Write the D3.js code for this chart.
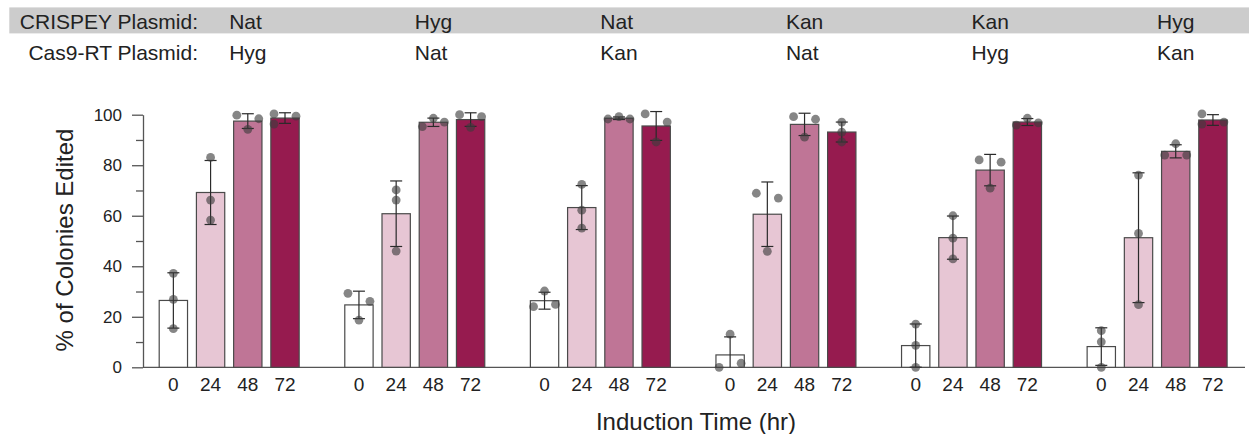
<!DOCTYPE html>
<html>
<head>
<meta charset="utf-8">
<script src="https://cdn.jsdelivr.net/npm/d3@7"></script>
<style>
  html, body { margin: 0; padding: 0; background: #fff; }
  svg { display: block; font-family: "Liberation Sans", Arial, sans-serif; }
</style>
</head>
<body>
<svg id="chart" width="1249" height="434"></svg>
<script>
// ---------------- data ----------------
const crispeyPlasmid = ["Nat", "Hyg", "Nat", "Kan", "Kan", "Hyg"];
const cas9Plasmid    = ["Hyg", "Nat", "Kan", "Nat", "Hyg", "Kan"];
const timeLabels     = ["0", "24", "48", "72"];
const yTickValues    = [0, 20, 40, 60, 80, 100];
const yMinorTicks    = [10, 30, 50, 70, 90];
const barColors      = ["#ffffff", "#e7c6d4", "#bf7596", "#961b4f"];

// replicate values (% colonies edited) per induction time, one array per plasmid pair
const natHyg = [[37.2, 26.9, 15.3], [83.1, 66.2, 58.3], [99.8, 98.4, 94.2], [100.3, 99.4, 96.3]];
const hygNat = [[29.3, 26.1, 18.7], [70.2, 66.2, 46.0], [98.6, 97.1, 95.3], [100.0, 99.2, 95.0]];
const natKan = [[24.0, 30.2, 24.9], [72.4, 62.2, 55.1], [99.2, 98.3, 98.3], [100.3, 97.1, 89.2]];
const kanNat = [[0.0, 1.6, 13.1],   [68.9, 67.0, 45.9], [99.2, 98.2, 91.1], [97.1, 93.1, 89.2]];
const kanHyg = [[17.1, 8.7, 0.0],   [60.0, 51.1, 42.9], [82.1, 81.2, 70.9], [98.6, 96.8, 95.9]];
const hygKan = [[14.5, 10.1, 0.0],  [76.1, 53.0, 24.8], [84.0, 84.0, 88.5], [100.3, 97.1, 96.3]];
const replicateGroups = [natHyg, hygNat, natKan, kanNat, kanHyg, hygKan];

// ---------------- layout ----------------
const W = 1249, H = 434;
const svg = d3.select("#chart");
const textColor = "#222";
const axisColor = "#555";

const y = d3.scaleLinear().domain([0, 100]).range([367.3, 114.7]);

const groupIdx = d3.range(crispeyPlasmid.length);
const x0 = d3.scaleBand().domain(groupIdx).range([158.7, 1227.6]).paddingInner(0.2404).paddingOuter(0);
const x1 = d3.scaleBand().domain(timeLabels).range([0, x0.bandwidth()]).paddingInner(0.212).paddingOuter(0);

const mean = a => d3.mean(a);
const sd = a => d3.deviation(a);

// ---------------- header ----------------
svg.append("rect").attr("x", 9.3).attr("y", 7.4).attr("width", W - 9.3).attr("height", 26)
  .attr("fill", "#cccccc");

const hdr = svg.append("g").attr("font-size", 21).attr("fill", textColor);
hdr.append("text").attr("x", 198).attr("y", 29.3).attr("text-anchor", "end").text("CRISPEY Plasmid:");
hdr.append("text").attr("x", 198).attr("y", 60).attr("text-anchor", "end").text("Cas9-RT Plasmid:");
hdr.selectAll("text.c1").data(crispeyPlasmid).join("text").attr("class", "c1")
  .attr("x", (d, i) => x0(i) + x0.bandwidth() / 2).attr("y", 29.3).text(d => d);
hdr.selectAll("text.c2").data(cas9Plasmid).join("text").attr("class", "c2")
  .attr("x", (d, i) => x0(i) + x0.bandwidth() / 2).attr("y", 60).text(d => d);

// ---------------- axes ----------------
const yAxis = svg.append("g").attr("transform", "translate(143,0)")
  .call(d3.axisLeft(y).tickValues(yTickValues).tickSize(11).tickSizeOuter(0).tickPadding(10).tickFormat(d3.format("d")));
yAxis.selectAll("path, line").attr("stroke", axisColor).attr("stroke-width", 1.3);
yAxis.selectAll("text").attr("font-size", 17).attr("fill", textColor).attr("font-family", "Liberation Sans, Arial, sans-serif");

const yMinor = svg.append("g").attr("transform", "translate(143,0)")
  .call(d3.axisLeft(y).tickValues(yMinorTicks).tickSize(7).tickFormat(""));
yMinor.select(".domain").remove();
yMinor.selectAll("line").attr("stroke", axisColor).attr("stroke-width", 1.3);

svg.append("line").attr("x1", 143).attr("x2", 1245).attr("y1", y(0)).attr("y2", y(0))
  .attr("stroke", axisColor).attr("stroke-width", 1.3);

svg.append("text").attr("transform", `translate(73,${(y(0) + y(100)) / 2 - 1}) rotate(-90)`)
  .attr("text-anchor", "middle").attr("font-size", 24).attr("fill", textColor)
  .text("% of Colonies Edited");

svg.append("text").attr("x", 696).attr("y", 430)
  .attr("text-anchor", "middle").attr("font-size", 24).attr("fill", textColor)
  .text("Induction Time (hr)");

// ---------------- bars ----------------
const groups = svg.append("g").selectAll("g.grp").data(replicateGroups).join("g")
  .attr("class", "grp").attr("transform", (d, i) => `translate(${x0(i)},0)`);

groups.each(function (reps) {
  const g = d3.select(this);
  const bars = reps.map((vals, k) => ({ t: timeLabels[k], k, vals, m: mean(vals), s: sd(vals) }));

  // x tick labels
  g.selectAll("text.tick").data(bars).join("text").attr("class", "tick")
    .attr("x", d => x1(d.t) + x1.bandwidth() / 2).attr("y", 390.5)
    .attr("text-anchor", "middle").attr("font-size", 19).attr("fill", textColor)
    .text(d => d.t);

  g.selectAll("rect.bar").data(bars).join("rect").attr("class", "bar")
    .attr("x", d => x1(d.t) + 0.5).attr("width", x1.bandwidth() - 1)
    .attr("y", d => y(d.m)).attr("height", d => y(0) - y(d.m))
    .attr("fill", d => barColors[d.k]).attr("stroke", "#4a4a4a").attr("stroke-width", 1.2);

  // error bars (mean ± SD)
  const cap = 6;
  bars.forEach(d => {
    const cx = x1(d.t) + x1.bandwidth() / 2;
    const top = d.m + d.s, bot = Math.max(0, d.m - d.s);
    const eb = g.append("g").attr("stroke", "#2a2a2a").attr("stroke-width", 1.2);
    eb.append("line").attr("x1", cx).attr("x2", cx).attr("y1", y(top)).attr("y2", y(bot));
    eb.append("line").attr("x1", cx - cap).attr("x2", cx + cap).attr("y1", y(top)).attr("y2", y(top));
    if (d.m - d.s > 0)
      eb.append("line").attr("x1", cx - cap).attr("x2", cx + cap).attr("y1", y(bot)).attr("y2", y(bot));
  });

  // replicate dots, spread horizontally when they overlap vertically
  const dotD = 9, spread = x1.bandwidth() * 0.375;
  bars.forEach(d => {
    const cx = x1(d.t) + x1.bandwidth() / 2;
    const pts = d.vals.map((v, i) => ({ v, i, py: y(v), off: 0 }));
    const sorted = pts.slice().sort((a, b) => a.py - b.py);
    const clusters = [];
    sorted.forEach(p => {
      const last = clusters[clusters.length - 1];
      if (last && p.py - last[last.length - 1].py < dotD) last.push(p); else clusters.push([p]);
    });
    clusters.forEach(c => {
      const range = c[c.length - 1].py - c[0].py;
      const members = c.slice().sort((a, b) => a.i - b.i);
      let pattern;
      if (members.length === 1) pattern = [0];
      else if (members.length === 2) pattern = [-1, 1];
      else pattern = range < dotD ? [0, 1, -1] : [-1, 1, -1];
      members.forEach((p, j) => p.off = pattern[j] * spread);
    });
    g.selectAll(null).data(pts).join("circle")
      .attr("cx", p => cx + p.off).attr("cy", p => p.py).attr("r", 4.4)
      .attr("fill", "#3c3c3c").attr("fill-opacity", 0.62);
  });
});
</script>
</body>
</html>
